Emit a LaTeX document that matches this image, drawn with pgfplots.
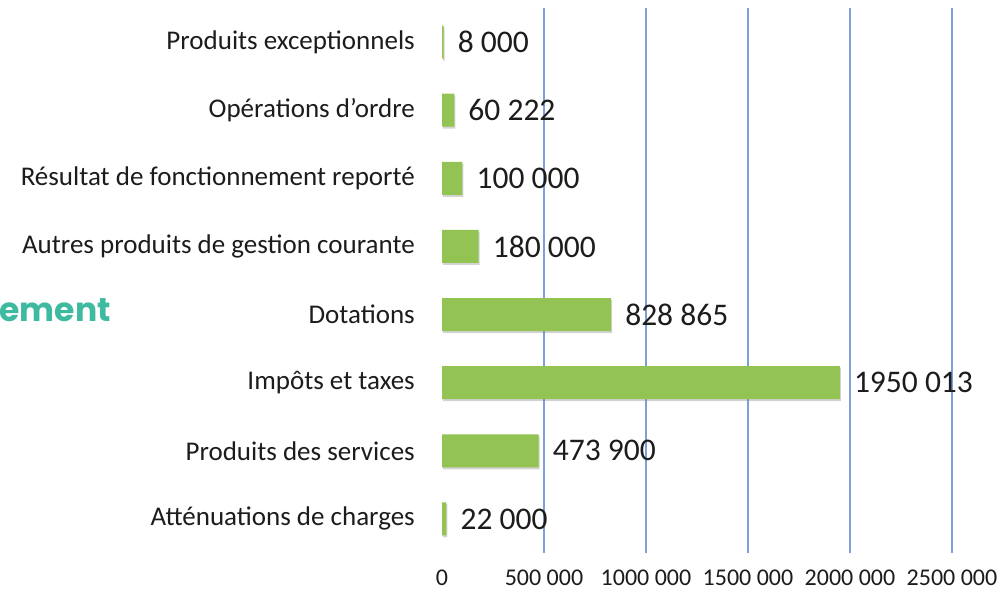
\documentclass[border=0pt]{standalone}
\usepackage{pgfplots}
\pgfplotsset{compat=1.18}
\usepackage{pgfplotstable}
\usepackage{fontspec}
\setmainfont{Carlito}
\newfontfamily\pop{Poppins}
\usetikzlibrary{shadows}
\definecolor{barg}{RGB}{146,195,83}
\definecolor{gridb}{RGB}{125,160,218}
\definecolor{teal1}{RGB}{62,186,160}
\definecolor{txt}{RGB}{28,28,28}
\pgfplotstableread{
i v lab
0 22000 {22 000}
1 473900 {473 900}
2 1950013 {1950 013}
3 828865 {828 865}
4 180000 {180 000}
5 100000 {100 000}
6 60222 {60 222}
7 8000 {8 000}
}\datatab
\begin{document}
\begin{tikzpicture}[x=1pt,y=1pt]
\useasboundingbox (0,0) rectangle (998,593);
\node[anchor=east, inner sep=0pt, text=teal1, font=\pop\bfseries\fontsize{33}{38}\selectfont] at (111,283) {ement};
\begin{axis}[
  at={(442pt,40pt)}, anchor=south west,
  scale only axis, width=510pt, height=545pt,
  xmin=0, xmax=2500000, ymin=-0.5, ymax=7.5,
  xbar, bar width=33pt, bar shift=0pt,
  axis line style={draw=none},
  major tick length=0pt,
  scaled x ticks=false,
  xtick={500000,1000000,1500000,2000000,2500000},
  xticklabels={500 000,1000 000,1500 000,2000 000,2500 000},
  extra x ticks={0}, extra x tick labels={0},
  extra x tick style={grid=none},
  xmajorgrids,
  grid style={gridb, line width=1.6pt},
  xticklabel style={font=\fontsize{24}{28}\selectfont, text=txt, anchor=base, inner sep=0pt, yshift=-33pt},
  ytick={0,...,7},
  yticklabels={Atténuations de charges, Produits des services, Impôts et taxes, Dotations, Autres produits de gestion courante, Résultat de fonctionnement reporté, Opérations d'ordre, Produits exceptionnels},
  yticklabel style={font=\fontsize{27}{31}\selectfont, text=txt, anchor=east, inner sep=0pt, xshift=-27pt},
  point meta=explicit symbolic,
  nodes near coords,
  every node near coord/.append style={font=\fontsize{31.5}{35}\selectfont, text=txt, anchor=west, inner sep=0pt, xshift=14pt},
]
\addplot[fill=barg, draw=none, drop shadow={shadow xshift=1pt, shadow yshift=-2pt, opacity=0.35}] table[x=v, y=i, meta=lab] {\datatab};
\end{axis}
\end{tikzpicture}
\end{document}
